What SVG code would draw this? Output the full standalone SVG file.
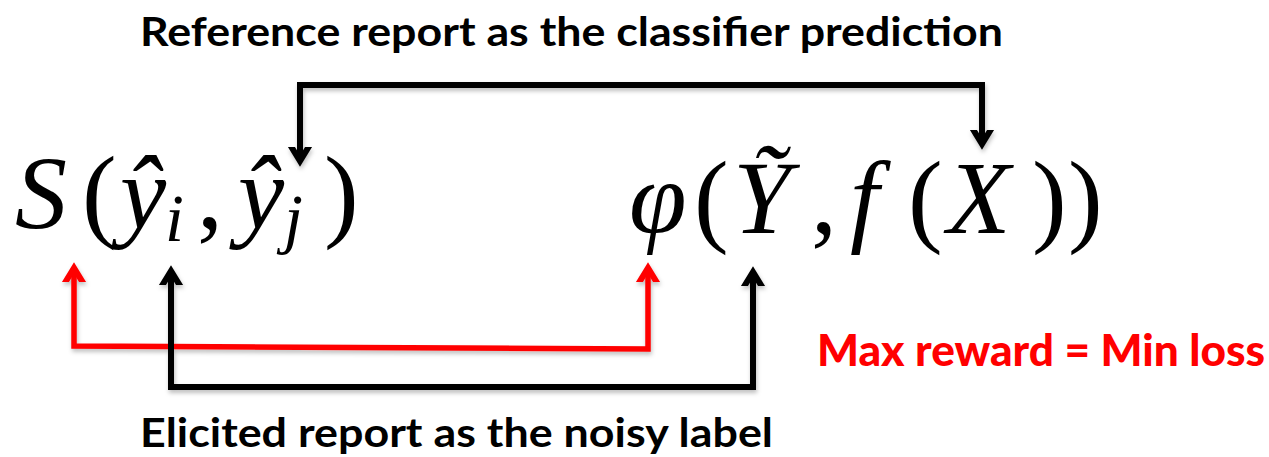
<svg xmlns="http://www.w3.org/2000/svg" width="1269" height="457" viewBox="0 0 1269 457">
<style>
.lbl{font-family:Lato,"Open Sans","Liberation Sans",sans-serif;font-weight:bold;font-size:40px;fill:#000}
.red{fill:#FF0000;font-size:44px;font-weight:900}
.m{font-family:"Liberation Serif","Times New Roman",serif;font-size:104px;fill:#000}
.mi{font-style:italic}
.sub{font-family:"Liberation Serif","Times New Roman",serif;font-style:italic;font-size:68px;fill:#000}
.conn{fill:none;stroke-width:6;stroke-linejoin:miter;stroke-linecap:butt}
.k{stroke:#000}
.r{stroke:#FF0000;stroke-width:5.5}
</style>
<defs>
<filter id="sh" x="-5%" y="-20%" width="110%" height="140%">
<feDropShadow dx="1" dy="3" stdDeviation="2" flood-color="#000" flood-opacity="0.25"/>
</filter>
<marker id="ak" markerUnits="userSpaceOnUse" markerWidth="30" markerHeight="30" viewBox="-15 -15 30 30" refX="0" refY="0" orient="auto-start-reverse">
<path d="M-19,-11 L-1,0 L-19,11" fill="none" stroke="#000" stroke-width="6" stroke-linecap="round" stroke-linejoin="miter"/>
</marker>
<marker id="ar" markerUnits="userSpaceOnUse" markerWidth="30" markerHeight="30" viewBox="-15 -15 30 30" refX="0" refY="0" orient="auto-start-reverse">
<path d="M-19,-11 L-1,0 L-19,11" fill="none" stroke="#FF0000" stroke-width="6" stroke-linecap="round" stroke-linejoin="miter"/>
</marker>
</defs>

<g id="connectors" filter="url(#sh)">
<path class="conn k" d="M300,162 V85 H982 V145" marker-start="url(#ak)" marker-end="url(#ak)"/>
<path class="conn r" d="M74,267 V346 L648,349 V267" marker-start="url(#ar)" marker-end="url(#ar)"/>
<path class="conn k" d="M171,270 V387 H753 V271" marker-start="url(#ak)" marker-end="url(#ak)"/>
</g>

<g id="label-top">
<text class="lbl" x="140" y="46" textLength="863" lengthAdjust="spacingAndGlyphs">Reference report as the classifier prediction</text>
</g>

<g id="node-score">
<text class="m mi" x="15" y="228">S</text>
<text class="m" x="82" y="228">(</text>
<text class="m mi" x="120" y="228">ŷ</text>
<text class="sub" x="165" y="241">i</text>
<text class="m" x="197" y="228">,</text>
<text class="m mi" x="238" y="228">ŷ</text>
<text class="sub" x="284" y="241">j</text>
<text class="m" x="324" y="228">)</text>
</g>

<g id="node-loss">
<text class="m mi" x="629" y="233">φ</text>
<text class="m" x="694" y="233">(</text>
<text class="m mi" x="733" y="233">Ỹ</text>
<text class="m" x="811" y="233">,</text>
<text class="m mi" x="850" y="233">f</text>
<text class="m" x="908" y="233">(</text>
<text class="m mi" x="947" y="233">X</text>
<text class="m" x="1032" y="233">)</text>
<text class="m" x="1068" y="233">)</text>
</g>

<g id="label-reward">
<text class="lbl red" x="817" y="366" textLength="448" lengthAdjust="spacingAndGlyphs">Max reward = Min loss</text>
</g>

<g id="label-bottom">
<text class="lbl" x="140" y="447" textLength="633" lengthAdjust="spacingAndGlyphs">Elicited report as the noisy label</text>
</g>
</svg>
